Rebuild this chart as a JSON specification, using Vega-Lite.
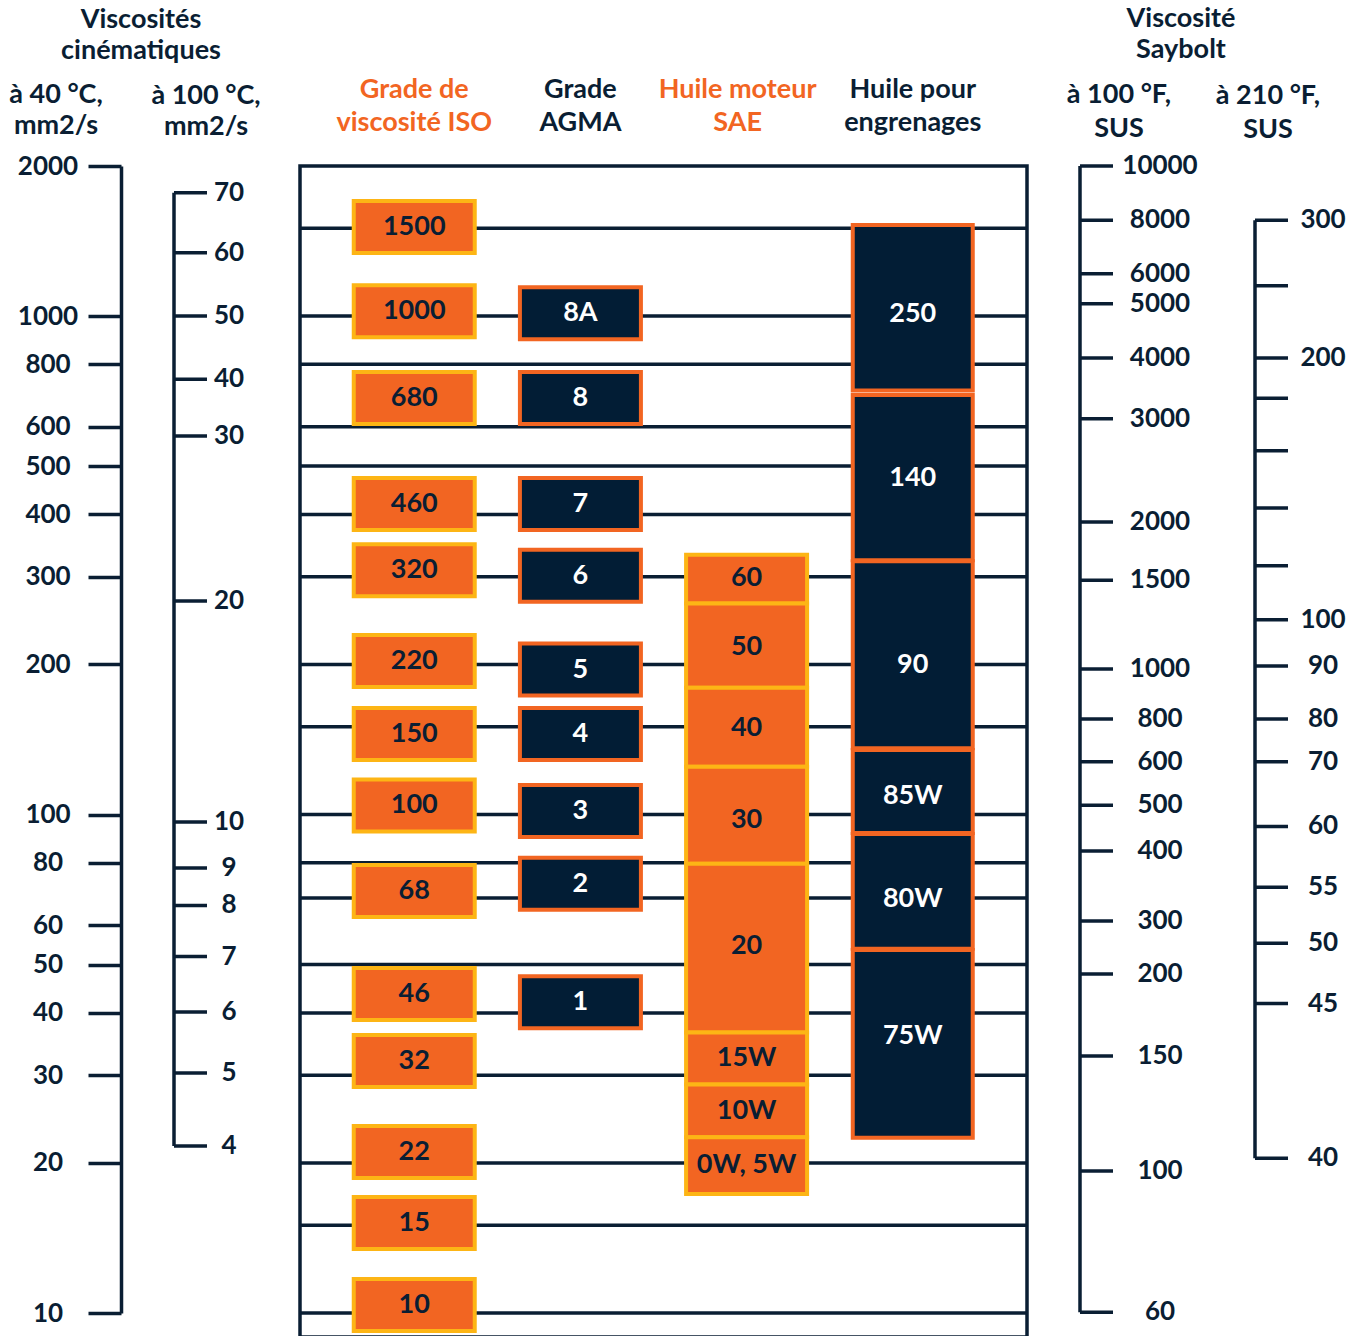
{
  "$schema": "https://vega.github.io/schema/vega-lite/v6.json",
  "background": "white",
  "padding": {"left": 0, "top": 5, "right": 0, "bottom": 0},
  "spacing": 0,
  "bounds": "flush",
  "resolve": {"scale": {"x": "independent", "y": "independent"}},
  "datasets": {
    "lines": [{"v":1500},{"v":1000},{"v":800},{"v":600},{"v":500},{"v":400},{"v":300},{"v":200},{"v":150},{"v":100},{"v":80},{"v":68},{"v":50},{"v":40},{"v":30},{"v":20},{"v":15},{"v":10}],
    "k40": [{"v":10},{"v":20},{"v":30},{"v":40},{"v":50},{"v":60},{"v":80},{"v":100},{"v":200},{"v":300},{"v":400},{"v":500},{"v":600},{"v":800},{"v":1000},{"v":2000}],
    "k100": [{"visc100":70,"v40":1768},{"visc100":60,"v40":1340},{"visc100":50,"v40":1000.4},{"visc100":40,"v40":746.6},{"visc100":30,"v40":574.6},{"visc100":20,"v40":268.1},{"visc100":10,"v40":96.6},{"visc100":9,"v40":78.1},{"visc100":8,"v40":65.7},{"visc100":7,"v40":51.9},{"visc100":6,"v40":40.16},{"visc100":5,"v40":30.3},{"visc100":4,"v40":21.63}],
    "sus100": [{"sus":10000,"v40":2000},{"sus":8000,"v40":1556.5},{"sus":6000,"v40":1216.2},{"sus":5000,"v40":1058.9},{"sus":4000,"v40":823.8},{"sus":3000,"v40":622.4},{"sus":2000,"v40":386.2},{"sus":1500,"v40":295.0},{"sus":1000,"v40":195.9},{"sus":800,"v40":155.4},{"sus":600,"v40":127.6},{"sus":500,"v40":104.4},{"sus":400,"v40":84.5},{"sus":300,"v40":61.14},{"sus":200,"v40":47.89},{"sus":150,"v40":32.78},{"sus":100,"v40":19.27},{"sus":60,"v40":10.04}],
    "sus210": [{"sus":300,"v40":1556.5,"shown":true},{"sus":250,"v40":1150.5,"shown":false},{"sus":200,"v40":823.8,"shown":true},{"sus":180,"v40":684.0,"shown":false},{"sus":160,"v40":536.9,"shown":false},{"sus":140,"v40":412.1,"shown":false},{"sus":120,"v40":315.6,"shown":false},{"sus":100,"v40":245.9,"shown":true},{"sus":90,"v40":198.7,"shown":true},{"sus":80,"v40":155.4,"shown":true},{"sus":70,"v40":127.6,"shown":true},{"sus":60,"v40":94.62,"shown":true},{"sus":55,"v40":71.46,"shown":true},{"sus":50,"v40":55.17,"shown":true},{"sus":45,"v40":41.75,"shown":true},{"sus":40,"v40":20.45,"shown":true}],
    "boxes": [
      {"sys":"ISO","label":"1500","v":1508.6},
      {"sys":"ISO","label":"1000","v":1022.3},
      {"sys":"ISO","label":"680","v":685.0},
      {"sys":"ISO","label":"460","v":419.7},
      {"sys":"ISO","label":"320","v":309.1},
      {"sys":"ISO","label":"220","v":203.2},
      {"sys":"ISO","label":"150","v":145.0},
      {"sys":"ISO","label":"100","v":104.3},
      {"sys":"ISO","label":"68","v":70.23},
      {"sys":"ISO","label":"46","v":43.64},
      {"sys":"ISO","label":"32","v":32.03},
      {"sys":"ISO","label":"22","v":21.04},
      {"sys":"ISO","label":"15","v":15.16},
      {"sys":"ISO","label":"10","v":10.38},
      {"sys":"AGMA","label":"8A","v":1012.9},
      {"sys":"AGMA","label":"8","v":685.0},
      {"sys":"AGMA","label":"7","v":419.7},
      {"sys":"AGMA","label":"6","v":301.4},
      {"sys":"AGMA","label":"5","v":195.4},
      {"sys":"AGMA","label":"4","v":145.0},
      {"sys":"AGMA","label":"3","v":101.65},
      {"sys":"AGMA","label":"2","v":72.65},
      {"sys":"AGMA","label":"1","v":42.0},
      {"sys":"SAE","label":"60","v":297.8,"lo":265.1,"hi":332.0},
      {"sys":"SAE","label":"50","v":216.4,"lo":179.6,"hi":265.1},
      {"sys":"SAE","label":"40","v":149.1,"lo":124.7,"hi":179.6},
      {"sys":"SAE","label":"30","v":97.41,"lo":79.68,"hi":124.7},
      {"sys":"SAE","label":"20","v":54.58,"lo":36.52,"hi":79.68},
      {"sys":"SAE","label":"15W","v":32.49,"lo":28.75,"hi":36.52},
      {"sys":"SAE","label":"10W","v":25.43,"lo":22.52,"hi":28.75},
      {"sys":"SAE","label":"0W, 5W","v":19.77,"lo":17.33,"hi":22.52},
      {"sys":"GEAR","label":"250","v":1011.0,"lo":709.1,"hi":1522.6},
      {"sys":"GEAR","label":"140","v":473.9,"lo":323.6,"hi":694.5},
      {"sys":"GEAR","label":"90","v":199.7,"lo":135.8,"hi":322.1},
      {"sys":"GEAR","label":"85W","v":109.1,"lo":91.86,"hi":134.8},
      {"sys":"GEAR","label":"80W","v":67.84,"lo":53.78,"hi":91.40},
      {"sys":"GEAR","label":"75W","v":36.0,"lo":22.48,"hi":53.50}
    ]
  },
  "hconcat": [
    {
      "width": 121, "height": 1147,
      "title": {"text": ["à 40 °C,", "mm2/s"], "offset": 13, "dx": -4.5, "lineHeight": 31},
      "data": {"name": "k40"},
      "mark": {"type": "point", "opacity": 0},
      "encoding": {
        "y": {"field": "v", "type": "quantitative",
          "scale": {"type": "log", "domain": [10, 2000], "nice": false},
          "axis": {"orient": "left", "offset": -121,
            "values": [10,20,30,40,50,60,80,100,200,300,400,500,600,800,1000,2000],
            "format": "d", "tickSize": 33, "tickWidth": 3.5, "tickColor": "#0A1E33",
            "domainColor": "#0A1E33", "domainWidth": 3.5, "grid": false, "title": null,
            "labelAlign": "center", "labelPadding": 40.5, "labelFont": "Lato", "labelFontSize": 26,
            "labelFontWeight": "bold", "labelColor": "#0A1E33", "labelBaseline": "middle",
            "labelOverlap": false, "labelFlush": false, "labelBound": false}}
      }
    },
    {
      "width": 53, "height": 1147,
      "title": {"text": ["Viscosités", "cinématiques"], "offset": 101, "dx": -6.5, "lineHeight": 31},
      "data": {"values": []},
      "mark": {"type": "point", "opacity": 0},
      "encoding": {}
    },
    {
      "width": 33, "height": 1147,
      "title": {"text": ["à 100 °C,", "mm2/s"], "offset": 25, "dx": 15.5, "lineHeight": 31},
      "data": {"name": "k100"},
      "layer": [
        {"mark": {"type": "rule", "color": "#0A1E33", "strokeWidth": 3.5},
         "encoding": {"y": {"field": "v40", "type": "quantitative", "scale": {"type": "log", "domain": [10, 2000], "nice": false}, "axis": null}}},
        {"mark": {"type": "rule", "color": "#0A1E33", "strokeWidth": 3.5},
         "encoding": {"x": {"value": 0},
           "y": {"aggregate": "max", "field": "v40", "type": "quantitative", "axis": null},
           "y2": {"aggregate": "min", "field": "v40"}}},
        {"mark": {"type": "text", "font": "Lato", "fontSize": 26, "fontWeight": "bold", "color": "#0A1E33", "align": "center", "baseline": "middle", "dx": 38.5},
         "encoding": {"y": {"field": "v40", "type": "quantitative", "axis": null},
           "text": {"field": "visc100", "type": "quantitative", "format": "d"}}}
      ]
    },
    {
      "width": 93, "height": 1147,
      "data": {"values": []},
      "mark": {"type": "point", "opacity": 0},
      "encoding": {}
    },
    {
      "width": 727, "height": 1171,
      "view": {"stroke": "#0A1E33", "strokeWidth": 3.5},
      "data": {"name": "boxes"},
      "layer": [
        {"data": {"name": "lines"},
         "mark": {"type": "rule", "color": "#0A1E33", "strokeWidth": 3.5},
         "encoding": {"y": {"field": "v", "type": "quantitative", "scale": {"type": "log", "domain": [8.951, 2000], "nice": false}, "axis": null}}},
        {"transform": [{"filter": "datum.sys == 'ISO'"}],
         "mark": {"type": "tick", "orient": "horizontal", "size": 121, "thickness": 52, "fill": "#F26522", "stroke": "#FDB515", "strokeWidth": 4, "opacity": 1, "fillOpacity": 1},
         "encoding": {
           "x": {"field": "sys", "type": "nominal",
             "scale": {"domain": ["ISO", "AGMA", "SAE", "GEAR"], "paddingInner": 0.261, "paddingOuter": 0.318},
             "axis": {"orient": "top", "domain": false, "ticks": false, "grid": false, "title": null,
               "labelAngle": 0, "labelFont": "Lato", "labelFontSize": 27, "labelFontWeight": "bold",
               "labelLineHeight": 33, "labelPadding": 63, "labelBaseline": "bottom", "labelLimit": 0,
               "labelOffset": {"condition": {"test": "datum.value == 'SAE'", "value": -9}, "value": 0},
               "labelExpr": "datum.value == 'ISO' ? ['Grade de', 'viscosité ISO'] : datum.value == 'AGMA' ? ['Grade', 'AGMA'] : datum.value == 'SAE' ? ['Huile moteur', 'SAE'] : ['Huile pour', 'engrenages']",
               "labelColor": {"condition": {"test": "datum.value == 'ISO' || datum.value == 'SAE'", "value": "#F26522"}, "value": "#0A1E33"}}},
           "y": {"field": "v", "type": "quantitative", "axis": null}}},
        {"transform": [{"filter": "datum.sys == 'AGMA'"}],
         "mark": {"type": "tick", "orient": "horizontal", "size": 121, "thickness": 52, "fill": "#021D35", "stroke": "#F26522", "strokeWidth": 4, "opacity": 1, "fillOpacity": 1},
         "encoding": {"x": {"field": "sys", "type": "nominal"}, "y": {"field": "v", "type": "quantitative", "axis": null}}},
        {"transform": [{"filter": "datum.sys == 'SAE'"}],
         "mark": {"type": "bar", "width": 121, "fill": "#F26522", "stroke": "#FDB515", "strokeWidth": 4},
         "encoding": {"x": {"field": "sys", "type": "nominal"}, "y": {"field": "lo", "type": "quantitative", "axis": null}, "y2": {"field": "hi"}}},
        {"transform": [{"filter": "datum.sys == 'GEAR'"}],
         "mark": {"type": "bar", "width": 120, "fill": "#021D35", "stroke": "#F26522", "strokeWidth": 4},
         "encoding": {"x": {"field": "sys", "type": "nominal"}, "y": {"field": "lo", "type": "quantitative", "axis": null}, "y2": {"field": "hi"}}},
        {"mark": {"type": "text", "font": "Lato", "fontSize": 27, "fontWeight": "bold", "align": "center", "baseline": "middle"},
         "encoding": {"x": {"field": "sys", "type": "nominal"}, "y": {"field": "v", "type": "quantitative", "axis": null},
           "text": {"field": "label", "type": "nominal"},
           "color": {"condition": {"test": "datum.sys == 'ISO' || datum.sys == 'SAE'", "value": "#0A1E33"}, "value": "#FFFFFF"}}}
      ]
    },
    {
      "width": 53, "height": 1147,
      "data": {"values": []},
      "mark": {"type": "point", "opacity": 0},
      "encoding": {}
    },
    {
      "width": 33, "height": 1147,
      "title": {"text": ["à 100 °F,", "SUS"], "offset": 10, "dx": 22.5, "lineHeight": 34},
      "data": {"name": "sus100"},
      "layer": [
        {"mark": {"type": "rule", "color": "#0A1E33", "strokeWidth": 3.5},
         "encoding": {"y": {"field": "v40", "type": "quantitative", "scale": {"type": "log", "domain": [10, 2000], "nice": false}, "axis": null}}},
        {"mark": {"type": "rule", "color": "#0A1E33", "strokeWidth": 3.5},
         "encoding": {"x": {"value": 0},
           "y": {"aggregate": "max", "field": "v40", "type": "quantitative", "axis": null},
           "y2": {"aggregate": "min", "field": "v40"}}},
        {"mark": {"type": "text", "font": "Lato", "fontSize": 26, "fontWeight": "bold", "color": "#0A1E33", "align": "center", "baseline": "middle", "dx": 63.5},
         "encoding": {"y": {"field": "v40", "type": "quantitative", "axis": null},
           "text": {"field": "sus", "type": "quantitative", "format": "d"}}}
      ]
    },
    {
      "width": 142, "height": 1147,
      "title": {"text": ["Viscosité", "Saybolt"], "offset": 102, "dx": -3, "lineHeight": 31},
      "data": {"values": []},
      "mark": {"type": "point", "opacity": 0},
      "encoding": {}
    },
    {
      "width": 33, "height": 1147,
      "title": {"text": ["à 210 °F,", "SUS"], "offset": 22, "dx": -3.5, "lineHeight": 34},
      "data": {"name": "sus210"},
      "layer": [
        {"mark": {"type": "rule", "color": "#0A1E33", "strokeWidth": 3.5},
         "encoding": {"y": {"field": "v40", "type": "quantitative", "scale": {"type": "log", "domain": [10, 2000], "nice": false}, "axis": null}}},
        {"mark": {"type": "rule", "color": "#0A1E33", "strokeWidth": 3.5},
         "encoding": {"x": {"value": 0},
           "y": {"aggregate": "max", "field": "v40", "type": "quantitative", "axis": null},
           "y2": {"aggregate": "min", "field": "v40"}}},
        {"transform": [{"filter": "datum.shown"}],
         "mark": {"type": "text", "font": "Lato", "fontSize": 26, "fontWeight": "bold", "color": "#0A1E33", "align": "center", "baseline": "middle", "dx": 51.5},
         "encoding": {"y": {"field": "v40", "type": "quantitative", "axis": null},
           "text": {"field": "sus", "type": "quantitative", "format": "d"}}}
      ]
    }
  ],
  "config": {
    "view": {"stroke": null},
    "font": "Lato",
    "title": {"font": "Lato", "fontSize": 27, "fontWeight": "bold", "color": "#0A1E33", "anchor": "middle", "frame": "group", "baseline": "bottom"}
  }
}
